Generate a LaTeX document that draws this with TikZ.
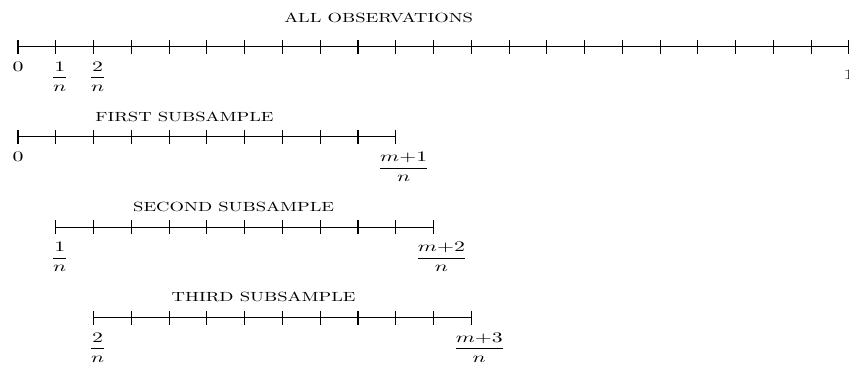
\documentclass[tikz,border=0pt]{standalone}
\usepackage{amsmath}
\usepackage{tikz}
\usetikzlibrary{positioning}

\newcommand{\lblfont}{\fontsize{11}{13}\selectfont}

\begin{document}
\begin{tikzpicture}[
  axis/.style={line width=0.8pt},
  tickmark/.style={line width=0.8pt},
  lbl/.style={anchor=north, inner sep=0pt, font=\lblfont, xscale=1.5},
  fraclbl/.style={lbl, xshift=2pt},
  widelbl/.style={lbl, xshift=4pt},
  ttl/.style={anchor=base west, inner sep=0pt, xscale=1.4}
]
\useasboundingbox (-0.477,1.236) rectangle (22,-8.56);

% all observations
\coordinate (all0) at (0,0);
\coordinate (all1) at (22,0);
\draw[axis] (all0) -- (all1);
\foreach \x in {0,...,22}
  \draw[tickmark] (\x,0.185) -- (\x,-0.185);
\node[ttl] (allttl) at (7.04,0.63) {ALL OBSERVATIONS};
\node[lbl] (alla) at (0,-0.4) {$0$};
\node[fraclbl] (allb) at (1,-0.4) {$\dfrac{1}{n}$};
\node[fraclbl] (allc) at (2,-0.4) {$\dfrac{2}{n}$};
\node[lbl, anchor=center] (alld) at (22,-0.75) {$1$};

% first subsample
\coordinate (first0) at (0,-2.39);
\coordinate (first1) at (10,-2.39);
\draw[axis] (first0) -- (first1);
\foreach \x in {0,...,10}
  \draw[tickmark] (\x,-2.39+0.185) -- (\x,-2.39-0.185);
\node[ttl] (firstttl) at (2.04,-2.39+0.42) {FIRST SUBSAMPLE};
\node[lbl] (firsta) at (0,-2.79) {$0$};
\node[widelbl] (firstb) at (10,-2.79) {$\dfrac{m{+}1}{n}$};

% second subsample
\coordinate (second0) at (1,-4.78);
\coordinate (second1) at (11,-4.78);
\draw[axis] (second0) -- (second1);
\foreach \x in {1,...,11}
  \draw[tickmark] (\x,-4.78+0.185) -- (\x,-4.78-0.185);
\node[ttl] (secondttl) at (3.04,-4.78+0.42) {SECOND SUBSAMPLE};
\node[fraclbl] (seconda) at (1,-5.18) {$\dfrac{1}{n}$};
\node[widelbl] (secondb) at (11,-5.18) {$\dfrac{m{+}2}{n}$};

% third subsample
\coordinate (third0) at (2,-7.17);
\coordinate (third1) at (12,-7.17);
\draw[axis] (third0) -- (third1);
\foreach \x in {2,...,12}
  \draw[tickmark] (\x,-7.17+0.185) -- (\x,-7.17-0.185);
\node[ttl] (thirdttl) at (4.06,-7.17+0.42) {THIRD SUBSAMPLE};
\node[fraclbl] (thirda) at (2,-7.57) {$\dfrac{2}{n}$};
\node[widelbl] (thirdb) at (12,-7.57) {$\dfrac{m{+}3}{n}$};
\end{tikzpicture}
\end{document}
